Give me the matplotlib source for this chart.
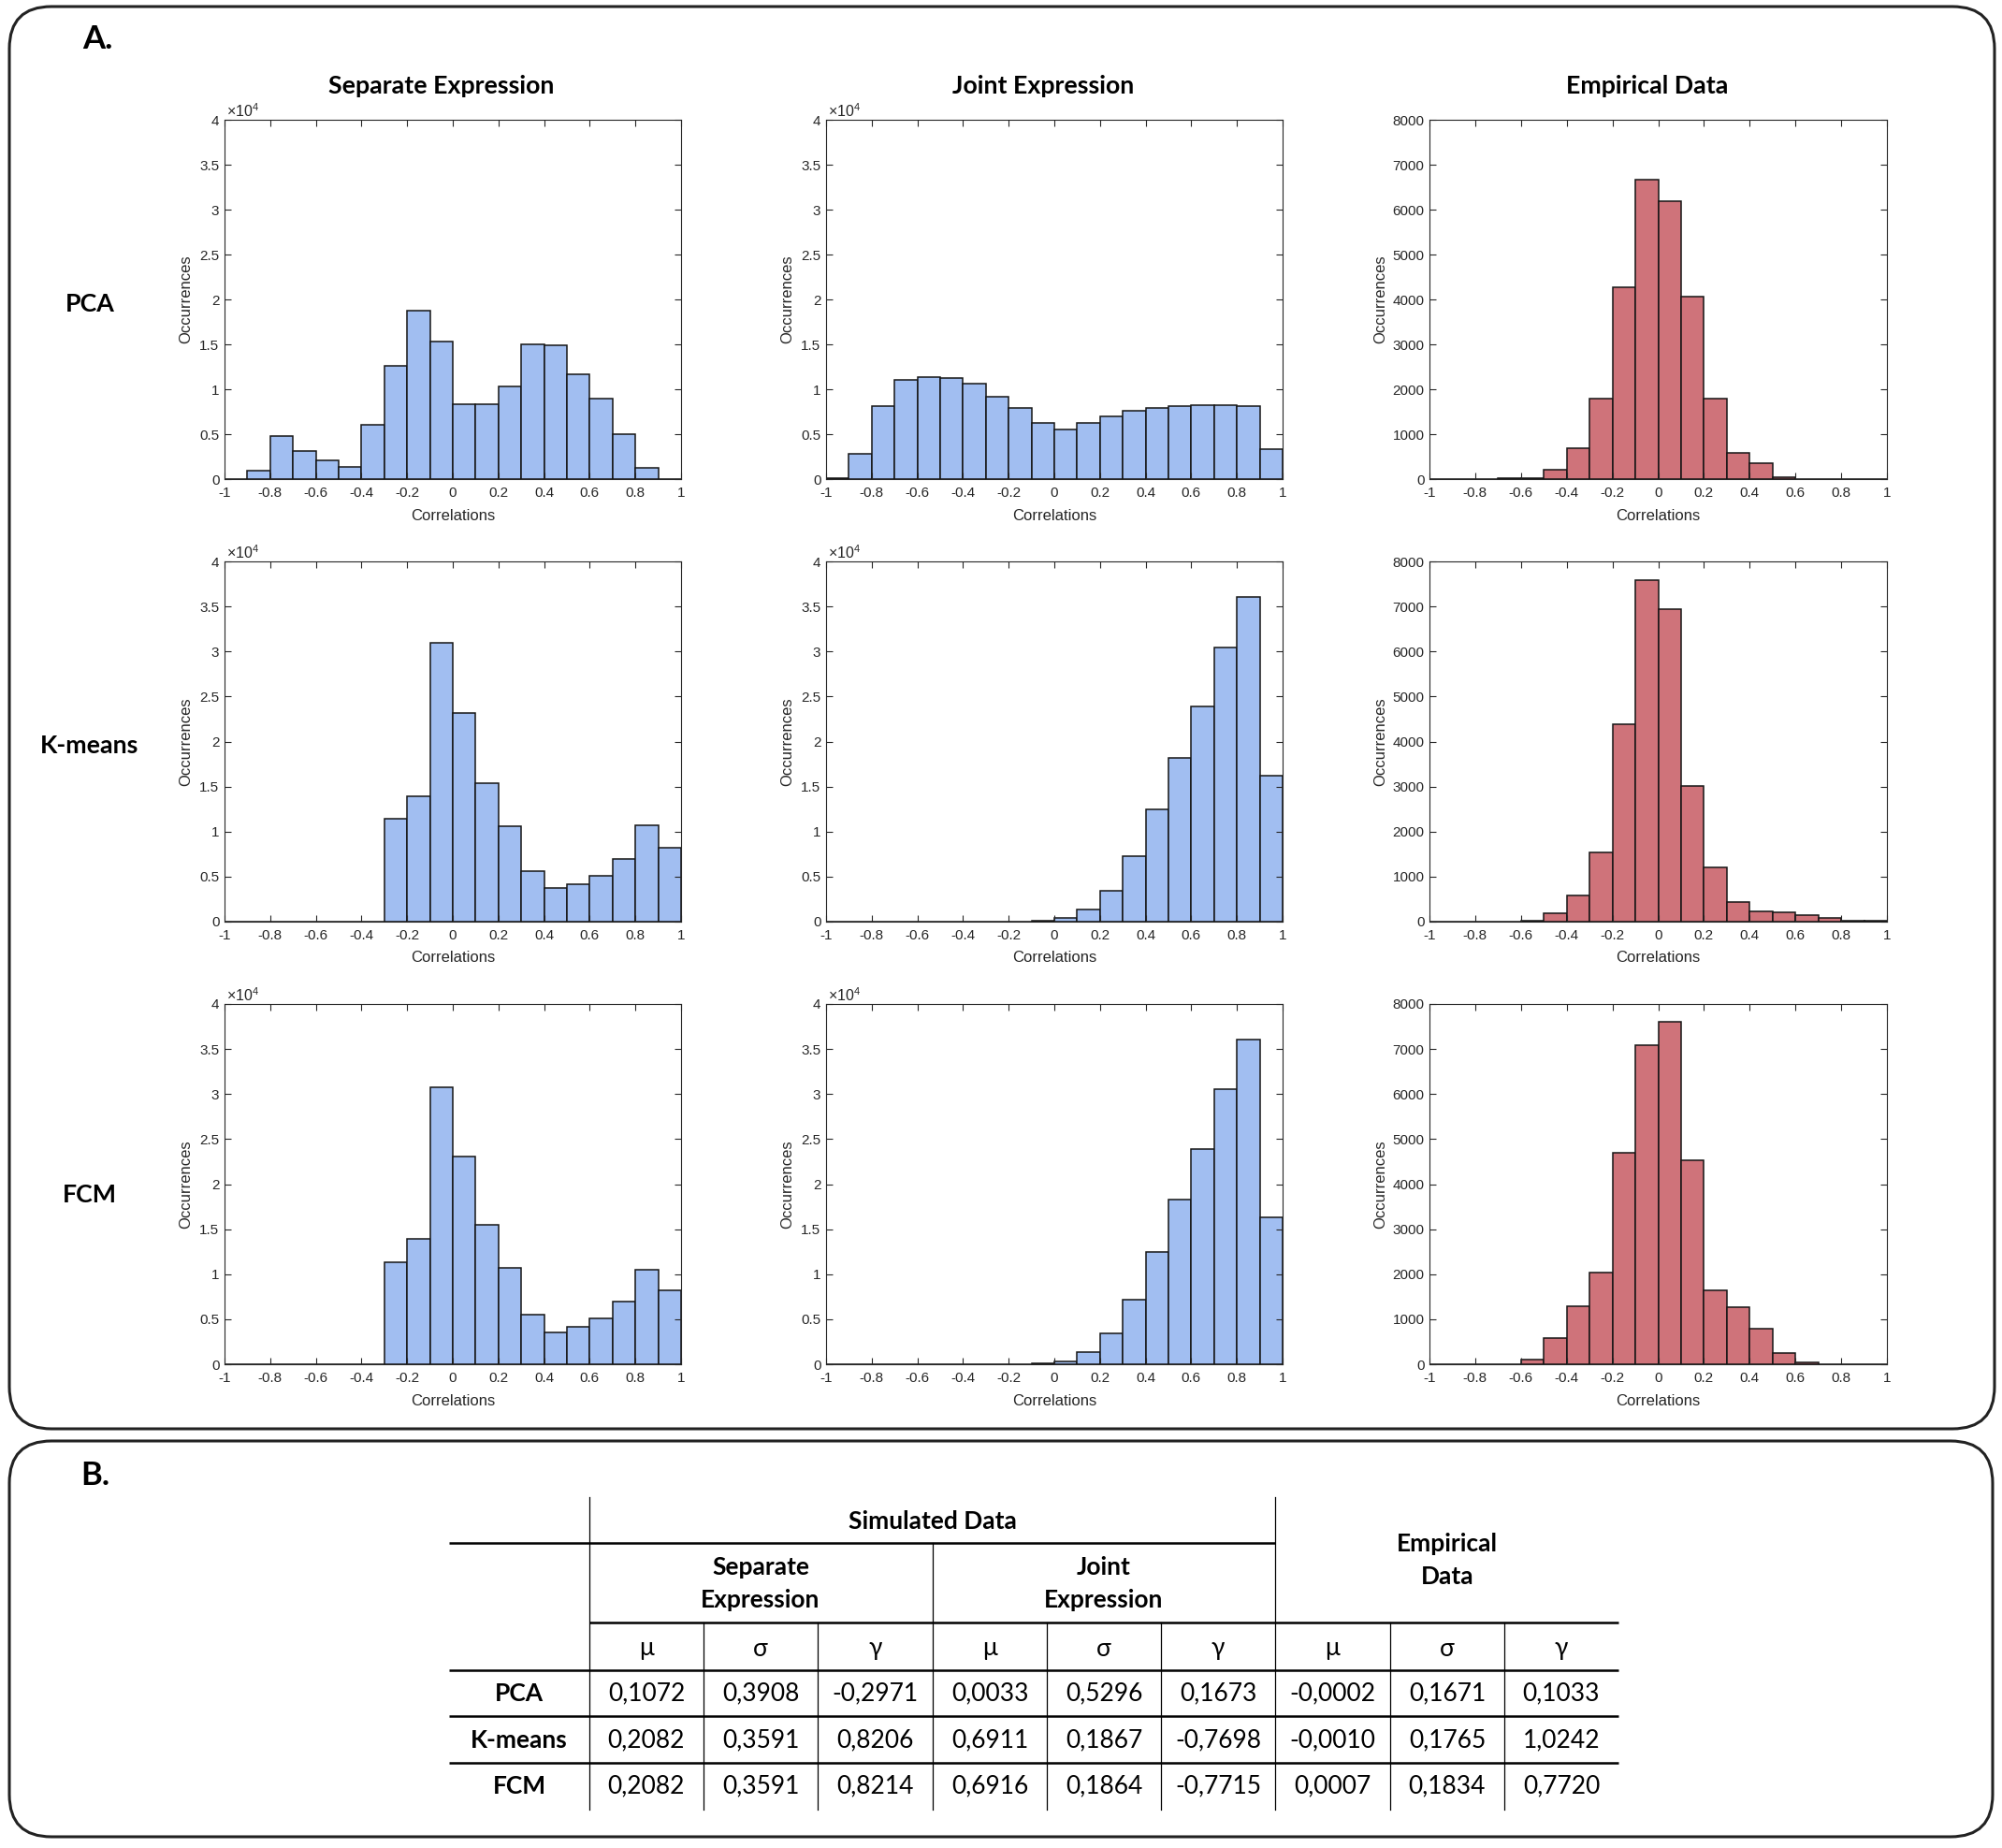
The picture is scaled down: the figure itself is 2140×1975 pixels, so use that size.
import matplotlib
matplotlib.use('Agg')
import matplotlib.pyplot as plt
from matplotlib.patches import FancyBboxPatch
import numpy as np

# ---------------- data ----------------
bin_edges = np.round(np.linspace(-1.0, 1.0, 21), 2)

methods = ['PCA', 'K-means', 'FCM']
column_titles = ['Separate Expression', 'Joint Expression', 'Empirical Data']

pca_separate = [0, 960, 4830, 3150, 2120, 1400, 5990, 12570, 18760, 15330,
                8340, 8340, 10300, 15010, 14850, 11620, 8940, 5030, 1280, 0]
pca_joint = [120, 2830, 8100, 11020, 11380, 11260, 10580, 9180, 7900, 6230,
             5510, 6230, 7030, 7620, 7900, 8100, 8220, 8220, 8100, 3310]
pca_empirical = [0, 0, 3, 20, 28, 210, 685, 1797, 4263, 6659,
                 6188, 4056, 1790, 587, 357, 49, 10, 8, 0, 0]

kmeans_separate = [0, 0, 0, 0, 0, 0, 0, 11390, 13960, 30960,
                   23130, 15410, 10600, 5580, 3710, 4120, 5090, 6960, 10670, 8240]
kmeans_joint = [0, 0, 0, 0, 0, 0, 0, 0, 0, 100,
                380, 1320, 3440, 7290, 12470, 18190, 23920, 30450, 36080, 16220]
kmeans_empirical = [0, 0, 0, 5, 25, 188, 584, 1529, 4378, 7589,
                    6935, 3023, 1195, 438, 229, 208, 146, 90, 28, 28]

fcm_separate = [0, 0, 0, 0, 0, 0, 0, 11360, 13920, 30750,
                23060, 15480, 10700, 5540, 3570, 4120, 5060, 6960, 10530, 8240]
fcm_joint = [0, 0, 0, 0, 0, 0, 0, 0, 0, 150,
             350, 1320, 3430, 7200, 12430, 18290, 23900, 30580, 36050, 16280]
fcm_empirical = [0, 0, 0, 8, 111, 582, 1282, 2031, 4700, 7092,
                 7605, 4534, 1636, 1262, 790, 256, 42, 0, 0, 0]

x_ticks = [-1, -0.8, -0.6, -0.4, -0.2, 0, 0.2, 0.4, 0.6, 0.8, 1]
sim_y_ticks = [0, 5000, 10000, 15000, 20000, 25000, 30000, 35000, 40000]
emp_y_ticks = [0, 1000, 2000, 3000, 4000, 5000, 6000, 7000, 8000]

table_groups = ['Separate\nExpression', 'Joint\nExpression', 'Empirical\nData']
stat_symbols = ['μ', 'σ', 'γ']
pca_stats = [0.1072, 0.3908, -0.2971, 0.0033, 0.5296, 0.1673, -0.0002, 0.1671, 0.1033]
kmeans_stats = [0.2082, 0.3591, 0.8206, 0.6911, 0.1867, -0.7698, -0.0010, 0.1765, 1.0242]
fcm_stats = [0.2082, 0.3591, 0.8214, 0.6916, 0.1864, -0.7715, 0.0007, 0.1834, 0.7720]

# ---------------- style ----------------
W, H = 2140, 1975
plt.rcParams['font.family'] = ['Liberation Sans', 'DejaVu Sans']
plt.rcParams['axes.unicode_minus'] = False
plt.rcParams['mathtext.fontset'] = 'custom'
plt.rcParams['mathtext.rm'] = 'Liberation Sans'
plt.rcParams['mathtext.it'] = 'Liberation Sans:italic'

HEAD = ['Lato', 'Open Sans', 'DejaVu Sans']
BLUE = '#A1BEF1'
RED = '#CF737A'
AXC = '#262626'

fig = plt.figure(figsize=(W / 100, H / 100), dpi=100)
fig.patch.set_facecolor('white')

bg = fig.add_axes([0, 0, 1, 1])
bg.set_xlim(0, W)
bg.set_ylim(H, 0)
bg.axis('off')

# panel boxes
for (x0, y0, x1, y1) in [(10, 7, 2132, 1527), (10, 1540, 2130, 1963)]:
    bg.add_patch(FancyBboxPatch((x0, y0), x1 - x0, y1 - y0,
                                boxstyle='round,pad=0,rounding_size=45',
                                lw=2.2, ec='#222222', fc='none'))

bg.text(104, 42, 'A.', fontsize=25, fontweight='bold', family=HEAD, ha='center', va='center')
bg.text(102, 1577, 'B.', fontsize=25, fontweight='bold', family=HEAD, ha='center', va='center')

col_x = [(240, 728), (883, 1371), (1528, 2017)]
row_y = [(128, 512), (600, 985), (1073, 1458)]
title_x = [472, 1115, 1761]
label_y = [325, 797, 1277]
ylabel_off = [41, 41, 52]

data = [[pca_separate, pca_joint, pca_empirical],
        [kmeans_separate, kmeans_joint, kmeans_empirical],
        [fcm_separate, fcm_joint, fcm_empirical]]

for j, t in enumerate(column_titles):
    bg.text(title_x[j], 92, t, fontsize=19.3, fontweight='bold', family=HEAD,
            ha='center', va='center')
for i, m in enumerate(methods):
    bg.text(96, label_y[i], m, fontsize=19.3, fontweight='bold', family=HEAD,
            ha='center', va='center')

def fmt(v):
    s = f'{v:g}'
    return '0' if s in ('-0', '0') else s

for i in range(3):
    for j in range(3):
        x0, x1 = col_x[j]
        y0, y1 = row_y[i]
        ax = fig.add_axes([x0 / W, 1 - y1 / H, (x1 - x0) / W, (y1 - y0) / H])
        counts = data[i][j]
        color = RED if j == 2 else BLUE
        ax.bar(bin_edges[:-1], counts, width=0.1, align='edge', color=color,
               edgecolor='#151515', linewidth=1.1)
        ax.set_xlim(-1, 1)
        ax.set_xticks(x_ticks)
        ax.set_xticklabels([fmt(v) for v in x_ticks])
        if j == 2:
            ax.set_ylim(0, 8000)
            ax.set_yticks(emp_y_ticks)
            ax.set_yticklabels([str(v) for v in emp_y_ticks])
        else:
            ax.set_ylim(0, 40000)
            ax.set_yticks(sim_y_ticks)
            ax.set_yticklabels([fmt(v / 1e4) for v in sim_y_ticks])
            ax.text(0.004, 1 + 9 / (y1 - y0), r'$\times10^{4}$', transform=ax.transAxes,
                    fontsize=11.5, color=AXC, ha='left', va='center')
        ax.tick_params(direction='in', top=True, right=True, length=5, width=0.8,
                       colors=AXC, labelsize=11)
        ax.tick_params(axis='x', pad=6)
        ax.tick_params(axis='y', pad=4)
        for sp in ax.spines.values():
            sp.set_color(AXC)
            sp.set_linewidth(0.8)
        ax.set_xlabel('Correlations', fontsize=12, color=AXC, va='center')
        ax.xaxis.set_label_coords(0.5, -39 / (y1 - y0))
        ax.set_ylabel('Occurrences', fontsize=12, color=AXC, va='center')
        ax.yaxis.set_label_coords(-ylabel_off[j] / (x1 - x0), 0.5)

# ---------------- table ----------------
vx = [630, 752, 874, 997, 1119, 1241, 1363, 1486, 1608, 1730]
left_x = 480
TH = 1.8
TV = 0.9
# horizontal lines
bg.plot([left_x, 1363], [1649, 1649], color='black', lw=TH, solid_capstyle='butt')
bg.plot([630, 1730], [1734, 1734], color='black', lw=TH, solid_capstyle='butt')
for yy in [1785, 1834, 1884]:
    bg.plot([left_x, 1730], [yy, yy], color='black', lw=TH, solid_capstyle='butt')
# vertical lines
for xv in [630, 1363]:
    bg.plot([xv, xv], [1600, 1934], color='black', lw=TV)
bg.plot([997, 997], [1649, 1934], color='black', lw=TV)
for xv in [752, 874, 1119, 1241, 1486, 1608]:
    bg.plot([xv, xv], [1734, 1934], color='black', lw=TV)

TFS = 19
bg.text(997, 1626, 'Simulated Data', fontsize=TFS, fontweight='bold', family=HEAD,
        ha='center', va='center')
group_pos = [(813, 1675), (1180, 1675), (1547, 1650)]
for g, (gx, gy) in zip(table_groups, group_pos):
    for li, line in enumerate(g.split('\n')):
        bg.text(gx, gy + li * 35, line, fontsize=TFS, fontweight='bold', family=HEAD,
                ha='center', va='center')

centers = [(vx[k] + vx[k + 1]) / 2 for k in range(9)]
for k, cx in enumerate(centers):
    bg.text(cx, 1762, stat_symbols[k % 3], fontsize=TFS, family=HEAD, ha='center', va='center')

row_cy = [1810, 1860, 1909]
for r, (m, vals) in enumerate(zip(methods, [pca_stats, kmeans_stats, fcm_stats])):
    bg.text(555, row_cy[r], m, fontsize=TFS, fontweight='bold', family=HEAD,
            ha='center', va='center')
    for k, v in enumerate(vals):
        s = f'{v:.4f}'.replace('.', ',')
        bg.text(centers[k], row_cy[r], s, fontsize=TFS, family=HEAD, ha='center', va='center')

fig.savefig('out.png', dpi=100, facecolor='white')
